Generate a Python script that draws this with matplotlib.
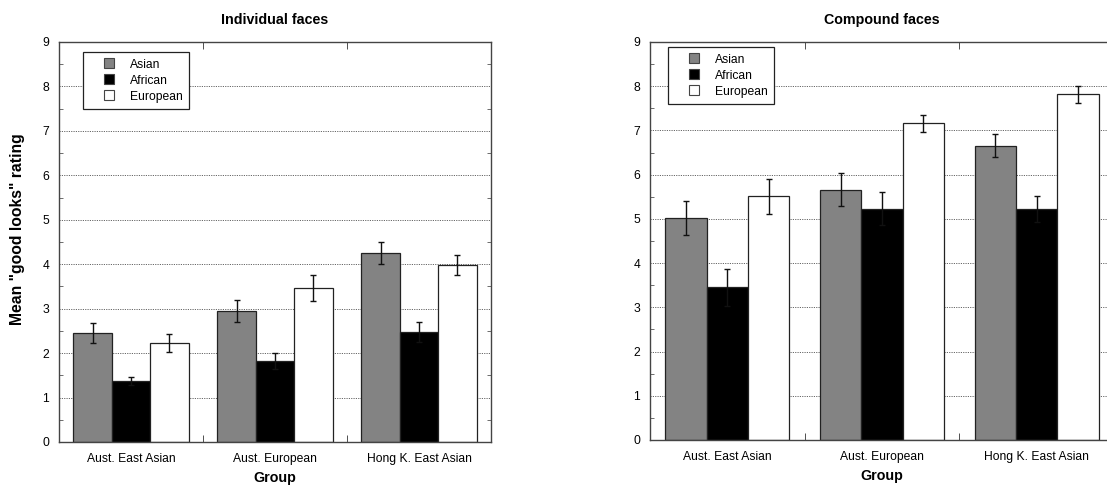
import matplotlib
matplotlib.use("Agg")
import matplotlib.pyplot as plt
from matplotlib.lines import Line2D
from matplotlib.ticker import MultipleLocator, FixedLocator
import numpy as np

plt.rcParams['font.family'] = ['Liberation Sans', 'DejaVu Sans']

groups = ["Aust. East Asian", "Aust. European", "Hong K. East Asian"]
series = ["Asian", "African", "European"]

# Individual faces
ind_asian = [2.45, 2.95, 4.25]
ind_african = [1.37, 1.82, 2.47]
ind_european = [2.22, 3.47, 3.98]
ind_asian_err = [0.22, 0.24, 0.24]
ind_african_err = [0.09, 0.18, 0.23]
ind_european_err = [0.20, 0.29, 0.23]

# Compound faces
cmp_asian = [5.02, 5.66, 6.65]
cmp_african = [3.45, 5.23, 5.22]
cmp_european = [5.51, 7.16, 7.82]
cmp_asian_err = [0.38, 0.37, 0.26]
cmp_african_err = [0.41, 0.37, 0.29]
cmp_european_err = [0.39, 0.20, 0.19]

colors = ["#838383", "#000000", "#ffffff"]

fig = plt.figure(figsize=(11.07, 4.87), dpi=100)
ax1 = fig.add_axes([59/1107, 1-442/487, 432/1107, 400/487])
ax2 = fig.add_axes([650/1107, 1-440/487, 464/1107, 398/487])

def draw(ax, vals, errs, title, legend_anchor):
    x = np.arange(len(groups))
    w = 0.8 / 3
    for i, (v, e) in enumerate(zip(vals, errs)):
        pos = x + (i - 1) * w
        ax.bar(pos, v, width=w, color=colors[i], edgecolor="#222222",
               linewidth=0.9, zorder=2, label=series[i])
        ax.errorbar(pos, v, yerr=e, fmt='none', ecolor='#111111',
                    elinewidth=1.0, capsize=2, capthick=1.0, zorder=3)
    ax.set_xlim(-0.5, 2.5)
    ax.set_ylim(0, 9)
    ax.yaxis.set_major_locator(MultipleLocator(1))
    ax.yaxis.set_minor_locator(MultipleLocator(0.5))
    ax.set_xticks(x)
    ax.set_xticklabels(groups, fontsize=8.7)
    ax.xaxis.set_minor_locator(FixedLocator([0.5, 1.5]))
    ax.tick_params(axis='x', which='major', length=0, pad=8)
    ax.tick_params(axis='x', which='minor', direction='in', length=5,
                   top=True, bottom=True, color='#333333')
    ax.tick_params(axis='y', which='major', direction='in', length=0,
                   labelsize=8.7, pad=7, left=True, right=True)
    ax.tick_params(axis='y', which='minor', direction='in', length=3,
                   left=True, right=True, color='#555555')
    ax.grid(axis='y', which='major', linestyle=(0, (1.2, 1.2)),
            color='#666666', linewidth=0.7, zorder=0)
    ax.set_axisbelow(True)
    for s in ax.spines.values():
        s.set_color('#444444')
        s.set_linewidth(1.0)
    ax.set_title(title, fontsize=10.3, fontweight='bold', pad=13)
    ax.set_xlabel("Group", fontsize=10.3, fontweight='bold', labelpad=4)
    handles = [Line2D([], [], linestyle='none', marker='s', markersize=7.5,
                      markerfacecolor=colors[i], markeredgecolor='#444444',
                      markeredgewidth=0.8, label=series[i]) for i in range(3)]
    leg = ax.legend(handles=handles, loc='upper left', bbox_to_anchor=legend_anchor,
                    fontsize=8.7, frameon=True, fancybox=False, framealpha=1,
                    edgecolor='#222222', handlelength=3.3, handleheight=1.0,
                    handletextpad=0.1, labelspacing=0.3, borderpad=0.5,
                    borderaxespad=0)
    leg.get_frame().set_linewidth(0.9)

draw(ax1, [ind_asian, ind_african, ind_european],
     [ind_asian_err, ind_african_err, ind_european_err], "Individual faces", (0.056, 0.975))
draw(ax2, [cmp_asian, cmp_african, cmp_european],
     [cmp_asian_err, cmp_african_err, cmp_european_err], "Compound faces", (0.039, 0.987))

ax1.set_ylabel('Mean "good looks" rating', fontsize=11.3, fontweight='bold')
ax1.yaxis.set_label_coords(-0.079, 0.5325)

fig.savefig("out.png", dpi=100)
